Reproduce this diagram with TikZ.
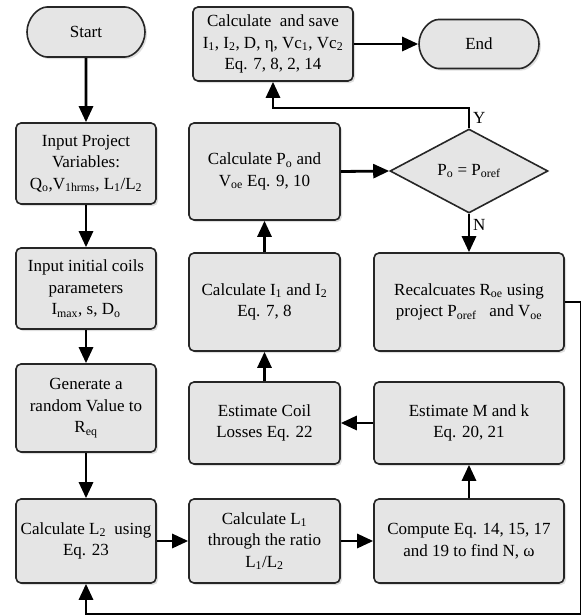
\documentclass[tikz,border=0pt]{standalone}
\usepackage{fontspec}
\setmainfont{Liberation Serif}
\usetikzlibrary{shapes.geometric,shapes.misc,shadows,arrows.meta}
\newcommand\sbs[1]{\textsubscript{#1}}
\begin{document}
\begin{tikzpicture}[x=1pt,y=-1pt,
  font=\fontsize{17}{21.5}\selectfont,
  box/.style={draw=black!85, line width=1.6pt, fill=gray!20, rounded corners=5pt,
     align=center, inner sep=2pt, drop shadow={opacity=0.25, shadow xshift=2pt, shadow yshift=-2pt}},
  term/.style={box, rounded rectangle},
  dec/.style={draw=black!85, line width=1.6pt, fill=gray!20, diamond, inner sep=0pt, align=center},
  arr/.style={line width=2.8pt, -{Triangle[length=16pt,width=14pt]}},
  lbl/.style={font=\fontsize{17}{18}\selectfont, inner sep=1pt}]
\useasboundingbox (0,0) rectangle (581,616);

\node[term, minimum width=122, minimum height=50] (start) at (86,32) {Start};
\node[box, minimum width=140, minimum height=81] (inproj) at (86,163.5) {Input Project\\Variables:\\Q\sbs{o},V\sbs{1hrms}, L\sbs{1}/L\sbs{2}};
\node[box, minimum width=140, minimum height=81] (incoil) at (86,288.5) {Input initial coils\\parameters\\I\sbs{max}, s, D\sbs{o}};
\node[box, minimum width=140, minimum height=88] (gen) at (86,408) {Generate a\\random Value to\\R\sbs{eq}};
\node[box, minimum width=140, minimum height=84] (calcL2) at (86,541) {Calculate L\sbs{2}\ \ using\\Eq. 23};

\node[box, minimum width=160, minimum height=74] (save) at (273,44) {Calculate\ \ and save\\I\sbs{1}, I\sbs{2}, D, η, Vc\sbs{1}, Vc\sbs{2}\\Eq. 7, 8, 2, 14};
\node[box, minimum width=151, minimum height=97] (calcPo) at (264.5,171.5) {Calculate P\sbs{o} and\\V\sbs{oe} Eq. 9, 10};
\node[box, minimum width=151, minimum height=98] (calcI) at (264.5,302) {Calculate I\sbs{1} and I\sbs{2}\\Eq. 7, 8};
\node[box, minimum width=151, minimum height=82] (estCoil) at (264.5,423) {Estimate Coil\\Losses Eq. 22};
\node[box, minimum width=151, minimum height=84] (calcL1) at (264.5,541) {Calculate L\sbs{1}\\through the ratio\\L\sbs{1}/L\sbs{2}};

\node[term, minimum width=124, minimum height=49] (end) at (479,44) {End};
\node[dec, minimum width=158, minimum height=84] (dec) at (469,171) {P\sbs{o} = P\sbs{oref}};
\node[box, minimum width=190, minimum height=98] (recalc) at (469,302) {Recalcuates R\sbs{oe} using\\project P\sbs{oref}\ \ \ and V\sbs{oe}};
\node[box, minimum width=190, minimum height=82] (estM) at (469,423) {Estimate M and k\\Eq. 20, 21};
\node[box, minimum width=190, minimum height=84] (compute) at (469,541) {Compute Eq. 14, 15, 17\\and 19 to find N, ω};

\coordinate (ytop) at (469,108);
\coordinate (ycorner) at (273,108);
\coordinate (fb1) at (581.5,302);
\coordinate (fb2) at (581.5,614);
\coordinate (fb3) at (86,614);

\draw[arr] (start) -- (inproj);
\draw[arr] (inproj) -- (incoil);
\draw[arr] (incoil) -- (gen);
\draw[arr] (gen) -- (calcL2);
\draw[arr] (calcL2.east) -- (calcL1.west);
\draw[arr] (calcL1.east) -- (compute.west);
\draw[arr] (compute) -- (estM);
\draw[arr] (estM) -- (estCoil);
\draw[arr] (estCoil) -- (calcI);
\draw[arr] (calcI) -- (calcPo);
\draw[arr] (calcPo.east) -- (dec.west);
\draw[arr, line join=miter] (dec.north) -- (ytop) -- (ycorner) -- (save.south);
\draw[arr] (save.east) -- (end.west);
\draw[arr] (dec.south) -- (recalc.north);
\draw[arr, line join=miter] (recalc.east) -- (fb1) -- (fb2) -- (fb3) -- (calcL2.south);

\node[lbl, anchor=west] (ylab) at (472,118) {Y};
\node[lbl, anchor=west] (nlab) at (472,225) {N};
\end{tikzpicture}
\end{document}
